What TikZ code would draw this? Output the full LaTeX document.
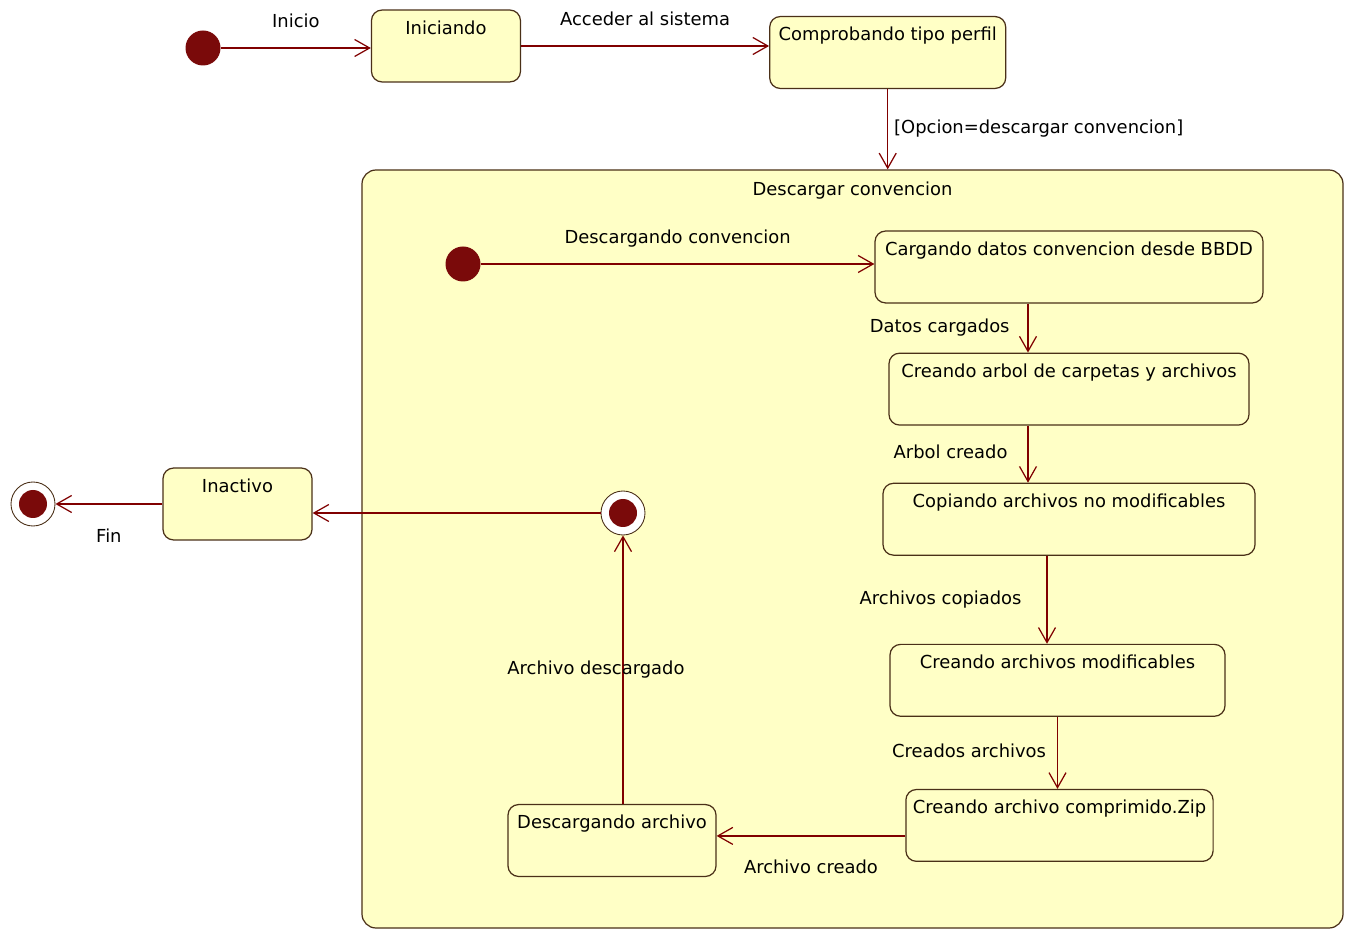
\documentclass[tikz,border=0pt]{standalone}
\usepackage{fontspec}
\setmainfont{DejaVu Sans}
\usepackage{xcolor}
\definecolor{cLine}{HTML}{800000}
\definecolor{cBorder}{HTML}{4A3018}
\definecolor{cFill}{HTML}{FFFFC6}
\definecolor{cDot}{HTML}{7A0A0A}
\usetikzlibrary{positioning,arrows.meta}
\tikzset{
  node-state/.style={draw=cBorder,line width=0.7pt,fill=cFill,rounded corners=6pt,
    inner xsep=4pt,inner ysep=3pt,text height=10.9pt,text depth=24pt},
  node-init/.style={circle,fill=cDot,minimum size=0.7cm,inner sep=0pt},
  node-end/.style={circle,draw=cBorder,line width=0.5pt,fill=white,
    minimum size=0.88cm,inner sep=0pt,
    path picture={\fill[cDot] (path picture bounding box.center) circle (0.28cm);}},
  node-composite/.style={draw=cBorder,line width=0.7pt,fill=cFill,
    rounded corners=8pt,inner sep=0pt},
  node-lbl/.style={text height=0.75em,text depth=0.25em},
  arrow/.style={-{Straight Barb[length=3mm,width=3.4mm]},line width=0.7pt,draw=cLine},
}
\begin{document}
\begin{tikzpicture}[x=0.2mm,y=-0.2mm,font=\fontsize{10.2}{12}\selectfont]
  \path[fill=white,use as bounding box] (0,0) rectangle (1345,931);
  % estado compuesto
  \node[node-composite,minimum width=19.62cm,minimum height=15.16cm,
    label={[anchor=north,yshift=-0.12cm]north:Descargar convencion}] (descargar) at (852.5,549) {};
  % fila superior
  \node[node-init] (inicio) at (203,48) {};
  \node[node-state,minimum width=2.98cm,right=3cm of inicio,yshift=0.04cm] (iniciando) {Iniciando};
  \node[node-state,minimum width=4.72cm,right=4.96cm of iniciando,yshift=-0.13cm] (comprobando) {Comprobando tipo perfil};
  % dentro de Descargar convencion
  \node[node-init] (dinit) at (463,264) {};
  \node[node-state,minimum width=7.76cm] (cargando) at (1069,267) {Cargando datos convencion desde BBDD};
  \node[node-state,minimum width=7.2cm,below=0.98cm of cargando] (arbol) {Creando arbol de carpetas y archivos};
  \node[node-state,minimum width=7.44cm,below=1.14cm of arbol] (copiando) {Copiando archivos no modificables};
  \node[node-state,minimum width=6.7cm,below=1.76cm of copiando,xshift=-0.23cm] (modificables) {Creando archivos modificables};
  \node[node-state,minimum width=6.14cm,below=1.44cm of modificables,xshift=0.04cm] (zip) {Creando archivo comprimido.Zip};
  \node[node-state,minimum width=4.16cm] (descargando) at (612,840.5) {Descargando archivo};
  \node[node-end] (dfin) at (623,513) {};
  % fuera
  \node[node-state,minimum width=2.98cm] (inactivo) at (237.5,504) {Inactivo};
  \node[node-end] (fin) at (33,504) {};

  \draw[arrow] (inicio) -- node[node-lbl,above=0.2cm]{Inicio} (inicio -| iniciando.west);
  \draw[arrow] (iniciando.east) -- node[node-lbl,above=0.2cm]{Acceder al sistema} (iniciando.east -| comprobando.west);
  \draw[arrow] (comprobando) -- node[node-lbl,right=0pt]{[Opcion=descargar convencion]} (comprobando |- descargar.north);
  \draw[arrow] (dinit) -- node[node-lbl,above=0.2cm]{Descargando convencion} (dinit -| cargando.west);
  \draw[arrow] ([xshift=-0.82cm]cargando.south) -- node[node-lbl,left=0.24cm]{Datos cargados} ([xshift=-0.82cm]arbol.north);
  \draw[arrow] ([xshift=-0.82cm]arbol.south) -- node[node-lbl,left=0.28cm]{Arbol creado} ([xshift=-0.82cm]copiando.north);
  \draw[arrow] ([xshift=-0.44cm]copiando.south) -- node[node-lbl,left=0.38cm]{Archivos copiados} ([xshift=-0.21cm]modificables.north);
  \draw[arrow] (modificables.south) -- node[node-lbl,left=0.1cm]{Creados archivos} (modificables.south |- zip.north);
  \draw[arrow] ([yshift=-0.21cm]zip.west) -- node[node-lbl,below=0.36cm]{Archivo creado} ([yshift=-0.21cm]zip.west -| descargando.east);
  \draw[arrow] (descargando.north -| dfin) -- node[node-lbl,xshift=-0.54cm]{Archivo descargado} (dfin);
  \draw[arrow] (dfin) -- (dfin -| inactivo.east);
  \draw[arrow] (inactivo) -- node[node-lbl,below=0.38cm]{Fin} (fin);
\end{tikzpicture}
\end{document}
